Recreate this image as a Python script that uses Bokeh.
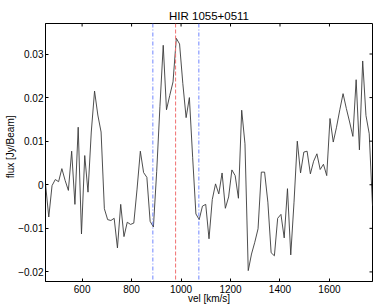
from bokeh.plotting import figure
from bokeh.models import Range1d, FixedTicker, Span, ColumnDataSource, Title
from bokeh.embed import file_html
from bokeh.resources import INLINE

# ---- data ----
title_text = "HIR 1055+0511"
x_label = "vel [km/s]"
y_label = "flux [Jy/Beam]"
vel_start = 452.0     # km/s, first channel
vel_step = 13.22      # km/s, channel width
flux = [
    0.0002, -0.0074, -0.0002, 0.0012, 0.0007, 0.0037, 0.0010, -0.0013, 0.0077, -0.0045,
    0.0132, -0.0113, 0.0067, -0.0017, 0.0121, 0.0215, 0.0160, 0.0121, -0.0055, -0.0080,
    -0.0082, -0.0077, -0.0145, -0.0045, -0.0119, -0.0086, -0.0091, -0.0088, -0.0010, 0.0077,
    0.0028, 0.0017, -0.0084, -0.0097, 0.0030, 0.0180, 0.0320, 0.0172, 0.0205, 0.0236,
    0.0336, 0.0323, 0.0232, 0.0154, 0.0200, 0.0063, -0.0067, -0.0080, -0.0049, -0.0045,
    -0.0124, -0.0034, 0.0002, -0.0021, 0.0027, -0.0054, -0.0028, 0.0034, 0.0021, -0.0031,
    0.0171, 0.0094, -0.0197, -0.0159, -0.0132, -0.0101, 0.0029, 0.0029, -0.0040, -0.0156,
    -0.0163, -0.0077, -0.0068, -0.0122, -0.0009, -0.0161, -0.0040, 0.0100, 0.0027, 0.0075,
    0.0077, 0.0025, 0.0054, 0.0071, 0.0035, 0.0047, 0.0021, 0.0152, 0.0098, 0.0132,
    0.0172, 0.0209, 0.0175, 0.0144, 0.0111, 0.0241, 0.0080, 0.0284, 0.0159, 0.0117,
    -0.0048,
]
vel = [round(vel_start + vel_step * i, 2) for i in range(len(flux))]

line_centre = 978.0          # red dashed
line_edges = [886.0, 1072.0]  # blue dash-dot

x_ticks = [600, 800, 1000, 1200, 1400, 1600]
y_ticks = [-0.02, -0.01, 0.0, 0.01, 0.02, 0.03]
y_tick_labels = ["\u22120.02", "\u22120.01", "0", "0.01", "0.02", "0.03"]
x_range = (452.0, 1774.0)
y_range = (-0.0222, 0.0370)

FONT = "Liberation Sans"
W, H = 374, 307
ML, MR, MT, MB = 45, 2, 23, 26
fw = W - ML - MR
fh = H - MT - MB

p = figure(width=W, height=H, output_backend="svg", toolbar_location=None,
           x_range=Range1d(*x_range), y_range=Range1d(*y_range),
           min_border_left=ML, min_border_right=MR, min_border_top=MT, min_border_bottom=MB)
p.title.text = title_text
p.title.align = "center"
p.title.text_font = FONT
p.title.text_font_size = "11.5px"
p.title.text_font_style = "normal"
p.title.text_color = "black"
p.title.standoff = 4
p.title.offset = 0

p.xgrid.visible = False
p.ygrid.visible = False
p.outline_line_color = "black"
p.outline_line_width = 1
p.background_fill_color = "white"
p.border_fill_color = "white"

src = ColumnDataSource(dict(vel=vel, flux=flux))
p.line("vel", "flux", source=src, line_color="#3a3a3a", line_width=0.9)

for e in line_edges:
    p.add_layout(Span(location=e, dimension="height", line_color="#7085ff",
                      line_width=1, line_dash="4 2 1 2"))
p.add_layout(Span(location=line_centre, dimension="height", line_color="#f07070",
                  line_width=1, line_dash="4 2"))

# mirrored inward ticks on the top and right edges of the box
tick_px = 3
dy = (y_range[1] - y_range[0]) / fh * tick_px
dx = (x_range[1] - x_range[0]) / fw * tick_px
p.segment(x0=x_ticks, x1=x_ticks, y0=[y_range[1]] * len(x_ticks),
          y1=[y_range[1] - dy] * len(x_ticks), line_color="black", line_width=1)
p.segment(x0=[x_range[1]] * len(y_ticks), x1=[x_range[1] - dx] * len(y_ticks),
          y0=y_ticks, y1=y_ticks, line_color="black", line_width=1)

def style(ax):
    ax.axis_line_color = "black"
    ax.major_tick_line_color = "black"
    ax.major_tick_in = 3
    ax.major_tick_out = 0
    ax.minor_tick_line_color = None
    ax.major_label_text_font = FONT
    ax.major_label_text_font_size = "10px"
    ax.major_label_text_color = "black"
    ax.major_label_standoff = 2
    ax.axis_label_text_font = FONT
    ax.axis_label_text_font_size = "10px"
    ax.axis_label_text_font_style = "normal"
    ax.axis_label_text_color = "black"
    ax.axis_label_standoff = 0

xa = p.xaxis[0]
xa.ticker = FixedTicker(ticks=x_ticks)
xa.axis_label = x_label
style(xa)
xa.major_label_standoff = 3
xa.axis_label_standoff = -3
ya = p.yaxis[0]
ya.ticker = FixedTicker(ticks=y_ticks)
ya.major_label_overrides = {t: l for t, l in zip(y_ticks, y_tick_labels)}
style(ya)

# y-axis label as a side title so it can sit a little above the axis centre
ylab = Title(text=y_label, align="right", offset=92, text_font=FONT,
             text_font_size="10px", text_font_style="normal", text_color="black",
             standoff=0)
p.add_layout(ylab, "left")

open("out.html", "w").write(file_html(p, INLINE))
